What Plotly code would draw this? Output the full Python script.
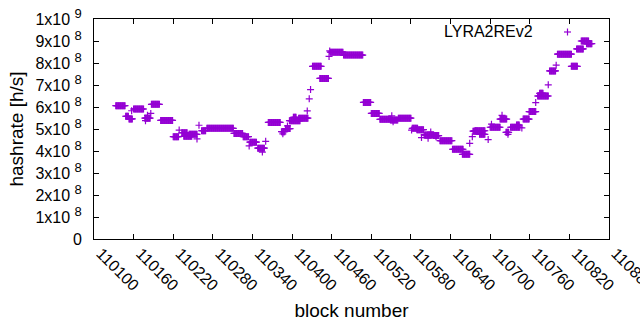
import plotly.graph_objects as go

# Runs of consecutive blocks sharing one hashrate (units of 1e8 h/s)
run_first = [110133, 110148, 110153, 110157, 110160, 110177, 110178, 110181, 110186, 110187,
             110201, 110220, 110229, 110233, 110236, 110244, 110256, 110259, 110263, 110271,
             110312, 110326, 110335, 110336, 110348, 110355, 110360, 110364, 110384, 110386,
             110390, 110393, 110396, 110402, 110410, 110423, 110426, 110428, 110431, 110442,
             110456, 110457, 110458, 110478, 110508, 110520, 110533, 110549, 110551, 110553,
             110561, 110581, 110582, 110589, 110596, 110600, 110606, 110610, 110618, 110614,
             110624, 110643, 110658, 110669, 110673, 110674, 110677, 110684, 110697, 110700,
             110702, 110715, 110718, 110724, 110727, 110731, 110740, 110748, 110750, 110759,
             110769, 110772, 110775, 110788, 110790, 110800, 110802, 110823, 110831, 110838,
             110846]
run_last = [110147, 110152, 110158, 110157, 110175, 110185, 110178, 110181, 110186, 110199,
            110219, 110228, 110229, 110241, 110248, 110256, 110256, 110259, 110269, 110311,
            110325, 110334, 110335, 110346, 110358, 110355, 110360, 110382, 110389, 110386,
            110397, 110393, 110412, 110406, 110424, 110423, 110426, 110428, 110444, 110455,
            110456, 110457, 110477, 110507, 110519, 110532, 110549, 110560, 110551, 110553,
            110580, 110581, 110590, 110599, 110596, 110614, 110606, 110610, 110618, 110622,
            110642, 110659, 110669, 110669, 110673, 110680, 110692, 110692, 110697, 110715,
            110702, 110725, 110718, 110728, 110727, 110745, 110744, 110748, 110759, 110769,
            110769, 110788, 110780, 110788, 110799, 110800, 110823, 110832, 110841, 110849,
            110854]
run_rate = [6.06, 5.58, 5.46, 5.83, 5.91, 5.49, 5.38, 5.62, 5.71, 6.12,
            5.39, 4.65, 4.95, 4.83, 4.67, 4.76, 4.55, 5.17, 4.92, 5.03,
            4.80, 4.65, 4.23, 4.40, 4.13, 3.95, 4.44, 5.30, 4.88, 4.78,
            5.02, 5.14, 5.38, 5.53, 5.49, 5.82, 6.37, 6.79, 7.85, 7.30,
            8.30, 8.55, 8.49, 8.36, 6.21, 5.71, 5.44, 5.41, 5.60, 5.33,
            5.49, 4.95, 5.03, 4.97, 4.61, 4.73, 4.58, 4.86, 4.65, 4.70,
            4.47, 4.08, 3.85, 4.35, 4.65, 4.90, 4.92, 4.76, 4.52, 5.08,
            5.22, 5.45, 5.62, 4.85, 4.76, 5.08, 5.18, 5.05, 5.45, 5.79,
            6.20, 6.50, 6.62, 7.01, 7.64, 7.90, 8.40, 7.85, 8.64, 9.00,
            8.88]

x_ticks = list(range(110100, 110881, 60))
y_tickvals = [i * 1e8 for i in range(11)]
y_mant = [0, 1, 2, 3, 4, 5, 6, 7, 8, 9, 1]
y_exp = [0, 8, 8, 8, 8, 8, 8, 8, 8, 8, 9]
series_name = "LYRA2REv2"

SUP = "<sup><span style='font-size:13px'>%d</span></sup>"
y_ticktext = ["0" if m == 0 else ("%dx10 " % m) + SUP % e for m, e in zip(y_mant, y_exp)]

blocks, rates = [], []
for f, l, r in zip(run_first, run_last, run_rate):
    for b in range(f, l + 1):
        blocks.append(b)
        rates.append(r * 1e8)

PURPLE = "#9400d3"
FONT = "Liberation Sans, Arial, sans-serif"

fig = go.Figure()
fig.add_trace(go.Scatter(
    x=blocks, y=rates, mode="markers", name=series_name, showlegend=False,
    marker=dict(symbol="cross-thin", size=5, color=PURPLE,
                line=dict(color=PURPLE, width=1.2)),
))

fig.update_layout(
    width=640, height=330,
    margin=dict(l=94, r=31, t=19, b=91),
    paper_bgcolor="white", plot_bgcolor="white",
    font=dict(family=FONT, size=16, color="black"),
    xaxis=dict(range=[110100, 110880], tickvals=x_ticks, ticktext=[str(v) for v in x_ticks],
               tickangle=45, ticks="inside", ticklen=5, tickcolor="black",
               showline=True, linecolor="black", linewidth=1, mirror="allticks",
               showgrid=False, zeroline=False, automargin=False,
               ticklabeloverflow="allow", ticklabelstandoff=-2, ticklabelshift=7,
               title=dict(text="block number", standoff=10)),
    yaxis=dict(range=[0, 1e9], tickvals=y_tickvals, ticktext=y_ticktext,
               ticks="inside", ticklen=5, tickcolor="black",
               showline=True, linecolor="black", linewidth=1, mirror="allticks",
               showgrid=False, zeroline=False, ticklabelstandoff=8, automargin=False,
               title=dict(text="hashrate [h/s]", standoff=6)),
    annotations=[dict(text=series_name, xref="paper", yref="paper",
                      x=(535 - 94) / 515, y=1 - (31 - 19) / 220,
                      xanchor="right", yanchor="middle", showarrow=False,
                      font=dict(family=FONT, size=16, color="black"))],
)

# legend sample marker (a '+')
cx, cy = (567.5 - 94) / 515, 1 - (32 - 19) / 220
hx, hy = 3.5 / 515, 3.5 / 220
fig.add_shape(type="line", xref="paper", yref="paper", x0=cx - hx, x1=cx + hx, y0=cy, y1=cy,
              line=dict(color=PURPLE, width=1.2))
fig.add_shape(type="line", xref="paper", yref="paper", x0=cx, x1=cx, y0=cy - hy, y1=cy + hy,
              line=dict(color=PURPLE, width=1.2))

fig.write_html("out.html", config={"displayModeBar": False},
               post_script="document.body.style.margin='0';")
